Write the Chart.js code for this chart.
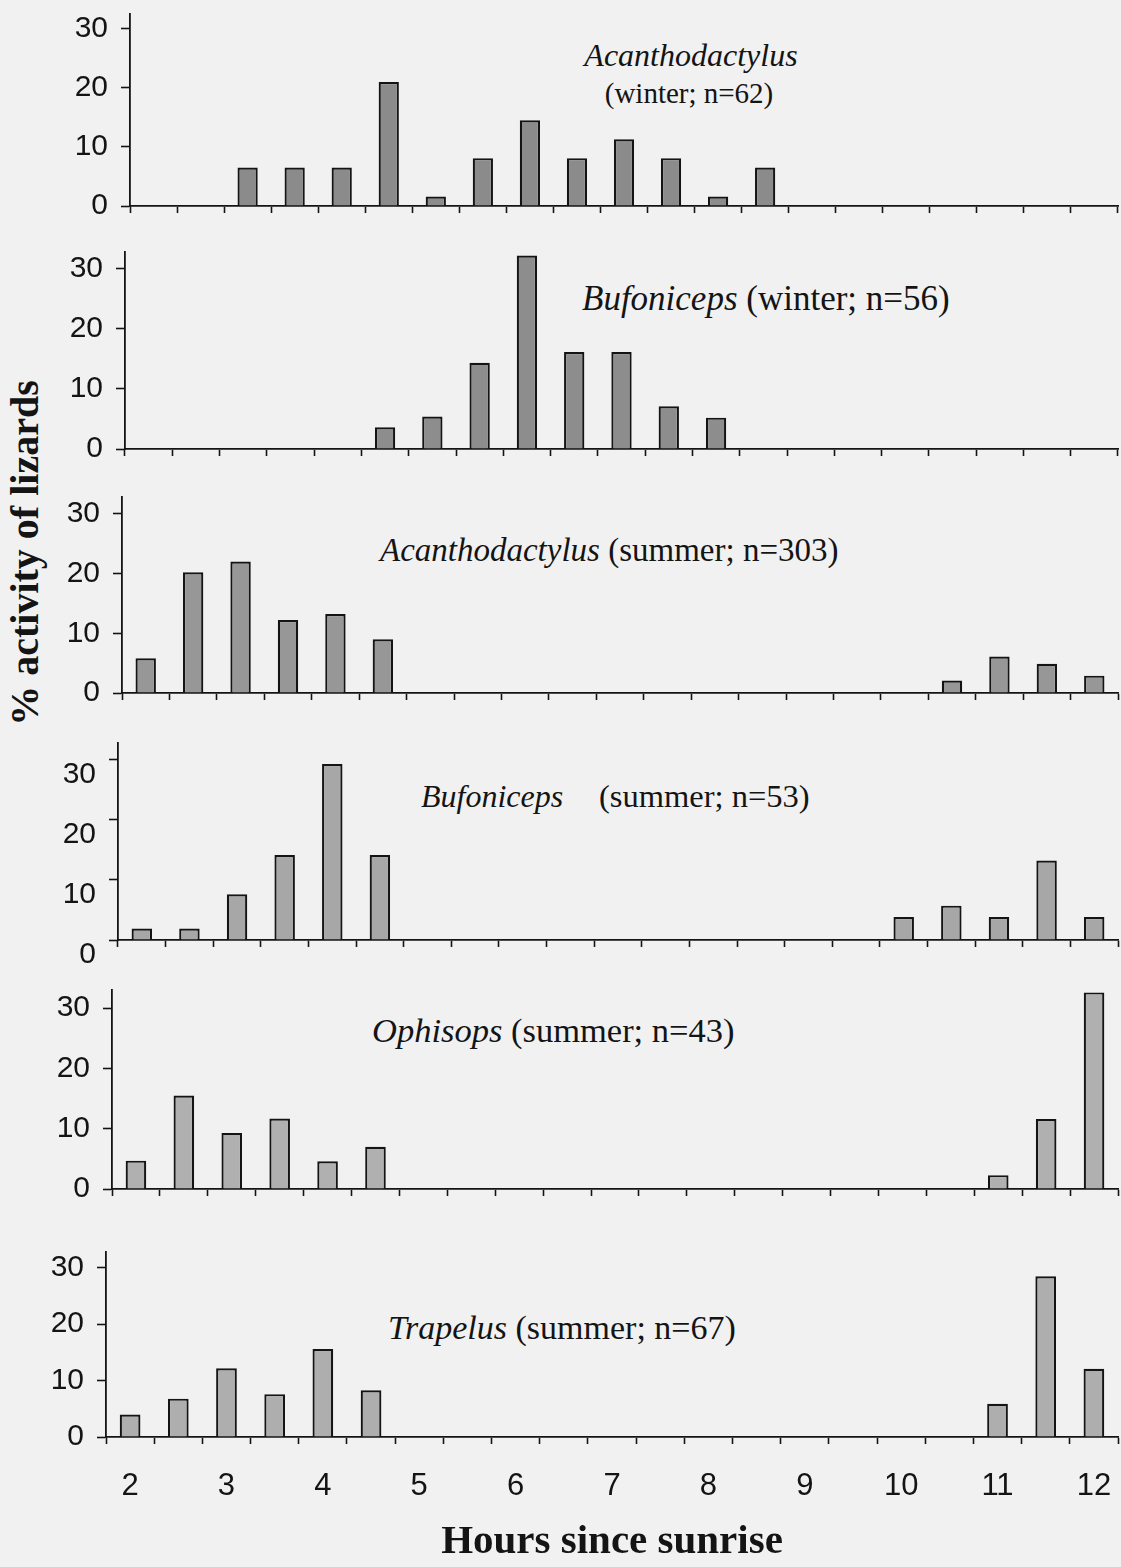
<!DOCTYPE html>
<html>
<head>
<meta charset="utf-8">
<script src="https://cdn.jsdelivr.net/npm/chart.js@4.4.1/dist/chart.umd.min.js"></script>
<style>
  html, body { margin: 0; padding: 0; background: #f1f1f1; }
  #wrap { position: relative; width: 1121px; height: 1567px; overflow: hidden; background: #f1f1f1; }
  #wrap canvas { position: absolute; left: 0; }
  .t { position: absolute; font-family: "Liberation Serif", "Times New Roman", serif; color: #141414;
       white-space: nowrap; transform: translateY(-50%); line-height: 1; }
  .t i { font-style: italic; }
  .c { transform: translate(-50%, -50%); }
  #ytitle { position: absolute; left: 25px; top: 553px; transform: translate(-50%, -50%) rotate(-90deg);
            font-family: "Liberation Serif", "Times New Roman", serif; font-weight: bold; font-size: 40px;
            color: #141414; white-space: nowrap; line-height: 1; }
</style>
</head>
<body>
<div id="wrap">
  <div class="t c" style="left:691px;top:55px;font-size:32px"><i>Acanthodactylus</i></div>
  <div class="t c" style="left:689px;top:93px;font-size:29px">(winter; n=62)</div>
  <div class="t" style="left:582px;top:298px;font-size:35px"><i>Bufoniceps</i> (winter; n=56)</div>
  <div class="t" style="left:380px;top:550px;font-size:33px"><i>Acanthodactylus</i> (summer; n=303)</div>
  <div class="t" style="left:421px;top:796px;font-size:32px"><i>Bufoniceps</i></div>
  <div class="t" style="left:599px;top:796px;font-size:32.5px">(summer; n=53)</div>
  <div class="t" style="left:372px;top:1030px;font-size:34.5px"><i>Ophisops</i> (summer; n=43)</div>
  <div class="t" style="left:388px;top:1328px;font-size:34px"><i>Trapelus</i> (summer; n=67)</div>
  <div id="ytitle">% activity of lizards</div>
</div>
<script>
// Half-hour classes of time since sunrise
const hourLabels = ["2", "2.5", "3", "3.5", "4", "4.5", "5", "5.5", "6", "6.5", "7",
                    "7.5", "8", "8.5", "9", "9.5", "10", "10.5", "11", "11.5", "12"];

// Percentage of observed lizards active in each half-hour class (null = none seen)
const acanthodactylusWinter = [null, null, 6.5, 6.5, 6.5, 21.0, 1.6, 8.1, 14.5, 8.1, 11.3,
                               8.1, 1.6, 6.5, null, null, null, null, null, null, null];
const bufonicepsWinter      = [null, null, null, null, null, 3.6, 5.4, 14.3, 32.1, 16.1, 16.1,
                               7.1, 5.2, null, null, null, null, null, null, null, null];
const acanthodactylusSummer = [5.8, 20.2, 22.0, 12.2, 13.2, 9.0, null, null, null, null, null,
                               null, null, null, null, null, null, 2.1, 6.1, 4.9, 2.9];
const bufonicepsSummer      = [1.9, 1.9, 7.6, 14.1, 29.2, 14.1, null, null, null, null, null,
                               null, null, null, null, null, 3.8, 5.7, 3.8, 13.2, 3.8];
const ophisopsSummer        = [4.7, 15.5, 9.3, 11.7, 4.6, 7.0, null, null, null, null, null,
                               null, null, null, null, null, null, null, 2.3, 11.6, 32.6];
const trapelusSummer        = [4.0, 6.8, 12.2, 7.6, 15.6, 8.3, null, null, null, null, null,
                               null, null, null, null, null, null, null, 5.9, 28.5, 12.1];

const yTickValues = [0, 10, 20, 30];

// Panel frames: y-axis x position, plot top, zero line, axis maximum
const panels = [
  { data: acanthodactylusWinter, fill: "#8b8b8b", axisX: 130, top: 14,   zero: 206,  yMax: 32.5 },
  { data: bufonicepsWinter,      fill: "#8d8d8d", axisX: 125, top: 252,  zero: 449,  yMax: 32.7 },
  { data: acanthodactylusSummer, fill: "#979797", axisX: 122, top: 497,  zero: 693,  yMax: 32.8 },
  { data: bufonicepsSummer,      fill: "#a7a7a7", axisX: 118, top: 743,  zero: 940,  yMax: 32.7, labelShift: 15, padBottom: 30 },
  { data: ophisopsSummer,        fill: "#b0b0b0", axisX: 112, top: 990,  zero: 1189, yMax: 33.0 },
  { data: trapelusSummer,        fill: "#aeaeae", axisX: 106, top: 1252, zero: 1437, yMax: 32.8, hours: true }
];

const INK = "#141414";
const RIGHT = 1118;
const PAD_TOP = 8;
const wrap = document.getElementById("wrap");

panels.forEach(p => {
  const xh = p.hours ? 1567 - p.zero : 12;
  const padBottom = p.padBottom || 0;
  const h = PAD_TOP + (p.zero - p.top) + xh + padBottom;
  const cv = document.createElement("canvas");
  cv.width = 1121; cv.height = h;
  cv.style.width = "1121px"; cv.style.height = h + "px";
  cv.style.top = (p.top - PAD_TOP) + "px";
  wrap.appendChild(cv);

  new Chart(cv, {
    type: "bar",
    data: {
      labels: hourLabels,
      datasets: [{
        data: p.data,
        backgroundColor: p.fill,
        borderColor: INK,
        borderWidth: 2.2,
        barPercentage: 0.43,
        categoryPercentage: 1.0
      }]
    },
    options: {
      responsive: false,
      animation: false,
      events: [],
      layout: { padding: { top: PAD_TOP, right: 1121 - RIGHT, left: 0, bottom: padBottom } },
      plugins: { legend: { display: false }, tooltip: { enabled: false } },
      scales: {
        x: {
          type: "category",
          offset: true,
          afterFit: s => { s.height = xh; s.paddingLeft = 0; s.paddingRight = 0; },
          border: { display: true, color: INK, width: 1.8 },
          grid: { offset: true, drawOnChartArea: false, drawTicks: true, tickLength: 7, tickColor: INK, tickWidth: 1.6 },
          ticks: {
            display: !!p.hours,
            autoSkip: false,
            maxRotation: 0,
            minRotation: 0,
            padding: 24,
            color: INK,
            font: { family: "'Liberation Sans', Arial, sans-serif", size: 31 },
            callback: function (v) {
              const l = this.getLabelForValue(v);
              return Number.isInteger(Number(l)) ? l : "";
            }
          },
          title: {
            display: !!p.hours,
            text: "Hours since sunrise",
            color: INK,
            font: { family: "'Liberation Serif', 'Times New Roman', serif", size: 41, weight: "bold" },
            padding: { top: 0, bottom: 0 }
          }
        },
        y: {
          min: 0,
          max: p.yMax,
          afterBuildTicks: s => { s.ticks = yTickValues.map(v => ({ value: v })); },
          afterFit: s => { s.width = p.axisX; s.paddingTop = 0; s.paddingBottom = 0; },
          border: { display: true, color: INK, width: 1.8 },
          grid: { drawOnChartArea: false, drawTicks: true, tickLength: 9, tickColor: INK, tickWidth: 1.6 },
          ticks: {
            color: INK,
            padding: 13,
            labelOffset: p.labelShift || 0,
            font: { family: "'Liberation Sans', Arial, sans-serif", size: 30 }
          }
        }
      }
    }
  });
});
</script>
</body>
</html>
